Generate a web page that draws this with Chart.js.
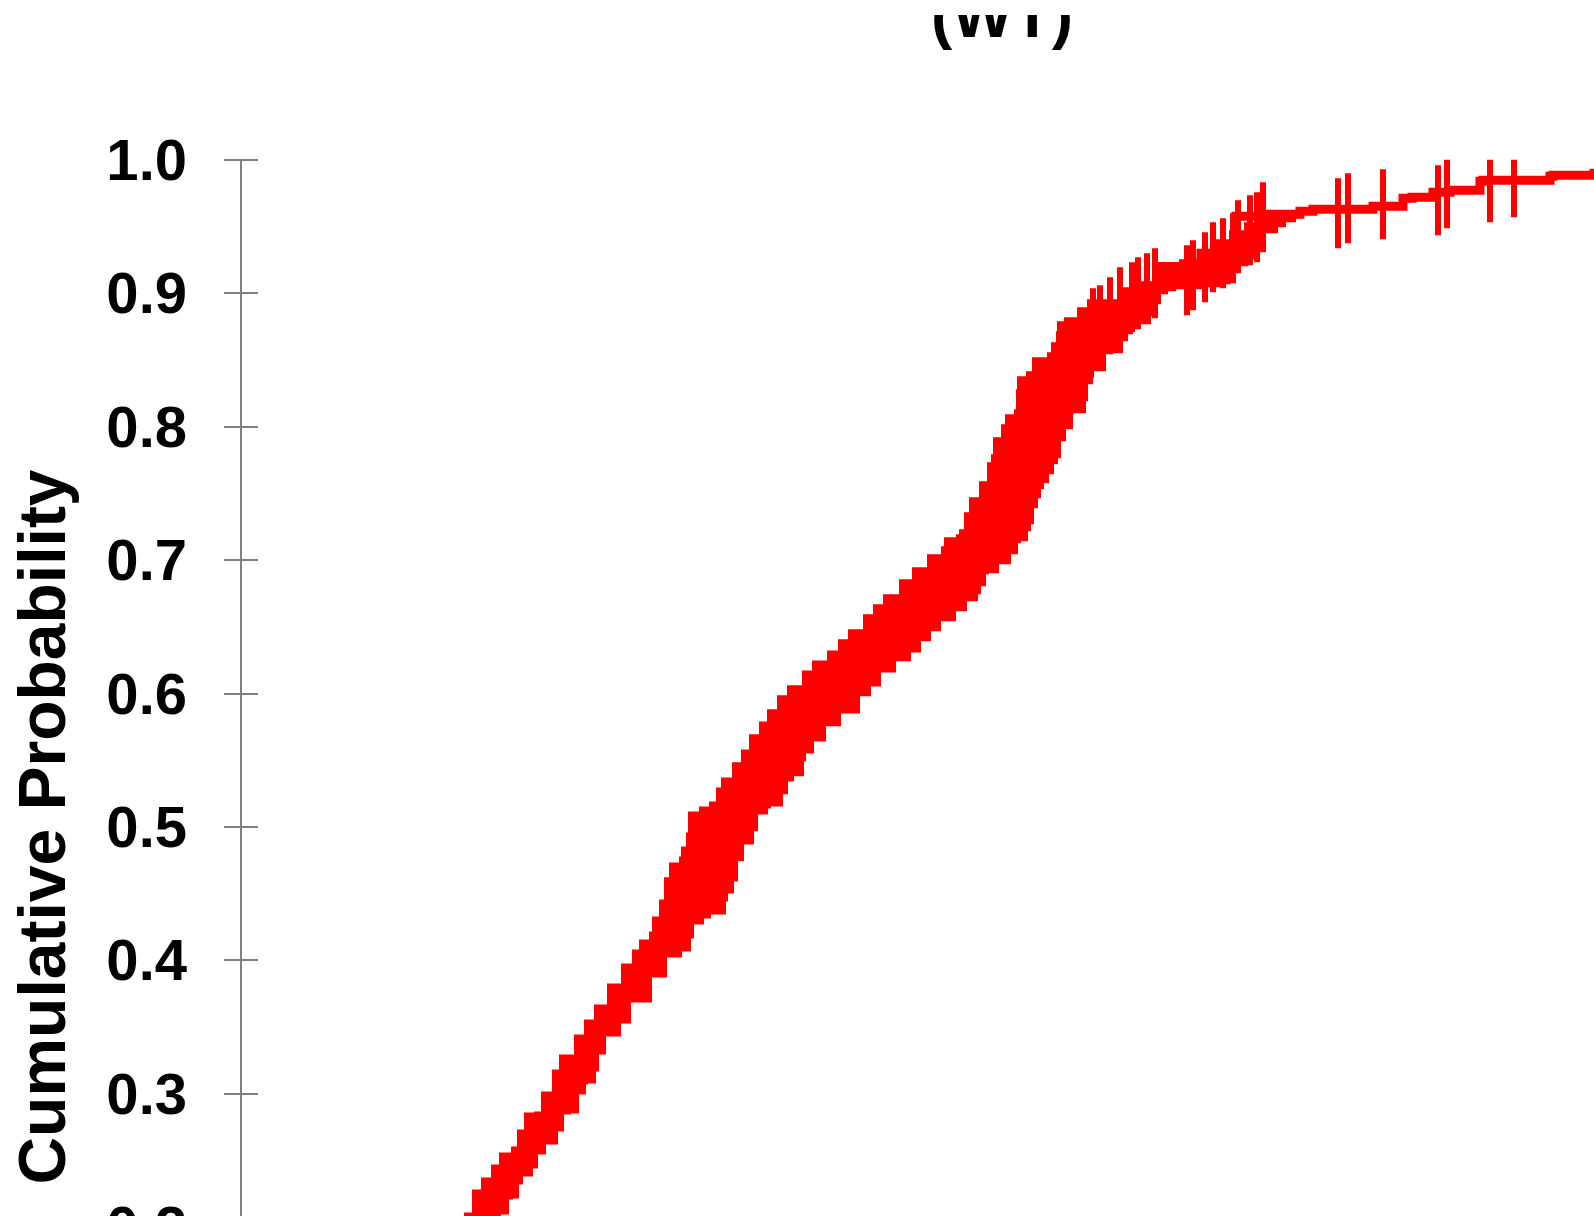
<!DOCTYPE html>
<html>
<head>
<meta charset="utf-8">
<title>Cumulative Probability (WT)</title>
<script src="https://cdn.jsdelivr.net/npm/chart.js@4.4.1/dist/chart.umd.min.js"></script>
<style>
  html, body { margin: 0; padding: 0; background: #ffffff; overflow: hidden; }
  #frame { position: absolute; left: 0; top: 15px; width: 1594px; height: 1201px; overflow: hidden; background: #ffffff; }
  #chart { position: absolute; left: 0; top: -34px; width: 2001px; height: 1602px; }
</style>
</head>
<body>
<div id="frame"><canvas id="chart" width="2001" height="1602"></canvas></div>
<script>
// Age axis (weeks) and cumulative probability values.

// Upper (early) edge of the dense censored band
const bandUpperAge = [19.0, 22.0, 22.4, 23.2, 24.1, 25.1, 25.9, 27.1, 27.7, 28.4, 29.4, 30.1, 31.2, 31.9, 33.4, 34.4, 35.4, 36.7, 38.1, 39.2, 39.9,
  40.9, 41.2, 41.9, 42.4, 42.9, 43.9, 44.1, 44.6, 44.8, 45.9, 46.9, 47.6, 48.1, 48.9, 49.2, 50.1, 50.9, 51.9, 52.7, 53.7,
  54.7, 56.2, 57.2, 58.7, 59.8, 60.8, 62.3, 63.3, 64.3, 65.9, 67.2, 68.7, 70.1, 70.4, 71.6, 71.9, 72.4, 72.9, 73.9, 74.7,
  75.1, 75.3, 76.1, 76.5, 77.4, 77.6, 77.7, 78.6, 79.2, 80.7, 81.1, 81.6, 81.7, 82.4, 83.7, 84.7, 87.9, 89.9, 92.4, 93.9,
  95.9, 97.4, 98.9, 100.4, 101.9, 105.9];
const bandUpperProb = [0.1600, 0.1950, 0.2103, 0.2276, 0.2366, 0.2463, 0.2553, 0.2598, 0.2726, 0.2853, 0.2861, 0.3010, 0.3175, 0.3288, 0.3438, 0.3550, 0.3663, 0.3820, 0.3970, 0.4075, 0.4150,
  0.4210, 0.4322, 0.4450, 0.4615, 0.4727, 0.4772, 0.4847, 0.4952, 0.5109, 0.5147, 0.5184, 0.5289, 0.5364, 0.5364, 0.5477, 0.5574, 0.5687, 0.5784, 0.5874, 0.5979,
  0.6054, 0.6166, 0.6241, 0.6316, 0.6399, 0.6474, 0.6586, 0.6661, 0.6736, 0.6849, 0.6939, 0.7036, 0.7096, 0.7163, 0.7186, 0.7223, 0.7351, 0.7463, 0.7583, 0.7726,
  0.7786, 0.7913, 0.8010, 0.8085, 0.8123, 0.8273, 0.8370, 0.8408, 0.8513, 0.8550, 0.8625, 0.8708, 0.8783, 0.8813, 0.8888, 0.8948, 0.9037, 0.9082, 0.9187, 0.9247,
  0.9322, 0.9397, 0.9465, 0.9525, 0.9577, 0.9622];

// Lower (late) edge of the dense censored band
const bandLowerAge = [19.0, 22.0, 24.5, 25.9, 26.7, 27.1, 27.7, 28.1, 29.1, 29.6, 30.4, 31.6, 32.2, 32.9, 33.7, 34.4, 34.6, 35.4, 35.7, 36.4, 37.9, 38.9,
  41.0, 42.5, 44.0, 44.9, 45.2, 46.2, 46.9, 48.4, 48.6, 49.2, 49.6, 50.2, 51.2, 51.6, 51.9, 52.6, 52.9, 54.1, 54.6, 55.2,
  56.2, 56.4, 57.2, 58.4, 59.9, 61.8, 62.9, 63.9, 65.4, 66.9, 67.9, 68.9, 69.9, 71.4, 72.5, 73.6, 73.9, 74.4, 74.7, 75.7,
  76.9, 77.6, 77.9, 78.6, 78.9, 79.2, 79.6, 79.9, 80.2, 80.7, 81.2, 81.6, 81.9, 82.4, 83.1, 83.2, 84.4, 84.6, 85.1, 85.2,
  86.4, 87.1, 88.1, 88.6, 89.1, 89.9, 90.9, 91.6, 91.9, 92.6, 93.4, 96.2, 98.1, 98.9, 99.4, 99.9, 100.6, 101.6, 103.6, 104.4,
  105.4, 105.9];
const bandLowerProb = [0.1200, 0.1600, 0.1800, 0.1901, 0.2103, 0.2216, 0.2223, 0.2328, 0.2388, 0.2448, 0.2553, 0.2628, 0.2726, 0.2853, 0.2861, 0.3003, 0.3078, 0.3085, 0.3175, 0.3303, 0.3438, 0.3535,
  0.3693, 0.3880, 0.4030, 0.4075, 0.4172, 0.4277, 0.4322, 0.4352, 0.4450, 0.4510, 0.4600, 0.4750, 0.4877, 0.4975, 0.5102, 0.5102, 0.5147, 0.5162, 0.5252, 0.5349,
  0.5387, 0.5499, 0.5559, 0.5649, 0.5762, 0.5859, 0.5987, 0.6061, 0.6166, 0.6249, 0.6316, 0.6399, 0.6474, 0.6549, 0.6624, 0.6699, 0.6751, 0.6811, 0.6901, 0.6909,
  0.6976, 0.7051, 0.7133, 0.7148, 0.7223, 0.7276, 0.7396, 0.7471, 0.7538, 0.7583, 0.7651, 0.7726, 0.7771, 0.7898, 0.7988, 0.8100, 0.8108, 0.8198, 0.8325, 0.8370,
  0.8423, 0.8550, 0.8558, 0.8648, 0.8700, 0.8738, 0.8775, 0.8835, 0.8925, 0.9000, 0.9022, 0.9037, 0.9052, 0.9075, 0.9112, 0.9157, 0.9210, 0.9262, 0.9457, 0.9502,
  0.9540, 0.9570];

// Cumulative probability curve (tail beyond the dense band)
const curveAge = [92.0, 96.0, 99.5, 102.6, 105.9, 107.2, 113.2, 116.2, 117.1, 119.2, 120.9, 123.9, 124.2, 130.9, 131.2, 135.3, 145.9];
const curveProb = [0.9050, 0.9200, 0.9300, 0.9577, 0.9592, 0.9615, 0.9630, 0.9652, 0.9712, 0.9720, 0.9757, 0.9772, 0.9840, 0.9847, 0.9877, 0.9884, 0.9900];

// Censored observations
const censorAge = [85.2, 85.9, 86.9, 87.9, 89.1, 89.7, 90.6, 91.4, 94.6, 95.2, 96.4, 97.2, 98.2, 99.2, 99.7, 100.9, 101.6, 102.2,
  109.7, 110.7, 114.2, 119.7, 120.6, 124.9, 127.3];
const censorProb = [0.8775, 0.8798, 0.8858, 0.8933, 0.8970, 0.9007, 0.9037, 0.9075, 0.9097, 0.9135, 0.9195, 0.9270, 0.9300, 0.9337, 0.9435, 0.9472, 0.9495, 0.9570,
  0.9600, 0.9637, 0.9667, 0.9697, 0.9750, 0.9795, 0.9832];

// Y axis ticks
const yTickValues = [0.0, 0.1, 0.2, 0.3, 0.4, 0.5, 0.6, 0.7, 0.8, 0.9, 1.0];
const yTickLabels = ['0.0', '0.1', '0.2', '0.3', '0.4', '0.5', '0.6', '0.7', '0.8', '0.9', '1.0'];

const RED = '#ff0000';
const AXIS_GREY = '#808080';
const FONT_FAMILY = '"Liberation Sans", Arial, Helvetica, sans-serif';

const toPoints = (xs, ys) => xs.map((x, i) => ({ x: x, y: ys[i] }));

// Tick marks that cross the axis line on both sides
const crossTicks = {
  id: 'crossTicks',
  afterDraw(chart) {
    const s = chart.scales.y;
    const ctx = chart.ctx;
    const x0 = s.right;
    ctx.save();
    ctx.strokeStyle = AXIS_GREY;
    ctx.lineWidth = 2;
    s.ticks.forEach(t => {
      const y = Math.round(s.getPixelForValue(t.value));
      ctx.beginPath();
      ctx.moveTo(x0 - 17, y);
      ctx.lineTo(x0 + 17, y);
      ctx.stroke();
    });
    ctx.restore();
  }
};

new Chart(document.getElementById('chart'), {
  type: 'line',
  data: {
    datasets: [
      {
        label: 'band upper',
        data: toPoints(bandUpperAge, bandUpperProb),
        stepped: 'before',
        borderColor: RED,
        borderWidth: 2,
        pointRadius: 0,
        fill: false
      },
      {
        label: 'band lower',
        data: toPoints(bandLowerAge, bandLowerProb),
        stepped: 'after',
        borderColor: RED,
        borderWidth: 2,
        pointRadius: 0,
        backgroundColor: RED,
        fill: '-1'
      },
      {
        label: 'WT',
        data: toPoints(curveAge, curveProb),
        stepped: 'after',
        borderColor: RED,
        borderWidth: 9,
        pointRadius: 0,
        fill: false
      },
      {
        label: 'censored',
        data: toPoints(censorAge, censorProb),
        showLine: false,
        pointStyle: 'line',
        rotation: 90,
        pointRadius: 35,
        pointBorderWidth: 6,
        pointBorderColor: RED,
        pointBackgroundColor: RED,
        borderColor: RED,
        clip: 0
      }
    ]
  },
  options: {
    responsive: false,
    maintainAspectRatio: false,
    animation: false,
    events: [],
    layout: { autoPadding: false, padding: { left: 3, right: 0, top: 0, bottom: 40 } },
    plugins: {
      legend: { display: false },
      tooltip: { enabled: false },
      title: {
        display: true,
        text: '(WT)',
        color: '#000000',
        font: { family: FONT_FAMILY, size: 64, weight: 'bold' },
        padding: { top: 0, bottom: 102 }
      }
    },
    scales: {
      x: { type: 'linear', min: 0, max: 176, display: false },
      y: {
        type: 'linear',
        min: 0,
        max: 1,
        afterFit: s => { s.width = 238; },
        afterBuildTicks: s => { s.ticks = yTickValues.map(v => ({ value: v })); },
        border: { display: true, color: AXIS_GREY, width: 2 },
        grid: { display: false, drawTicks: false, tickLength: 0 },
        ticks: {
          padding: 54,
          labelOffset: 4,
          color: '#000000',
          font: { family: FONT_FAMILY, size: 58, weight: 'bold' },
          callback: (v, i) => yTickLabels[i]
        },
        title: {
          display: true,
          text: 'Cumulative Probability',
          color: '#000000',
          font: { family: FONT_FAMILY, size: 66, weight: 'bold' },
          padding: { top: 4, bottom: 31 }
        }
      }
    }
  },
  plugins: [crossTicks]
});
</script>
</body>
</html>
